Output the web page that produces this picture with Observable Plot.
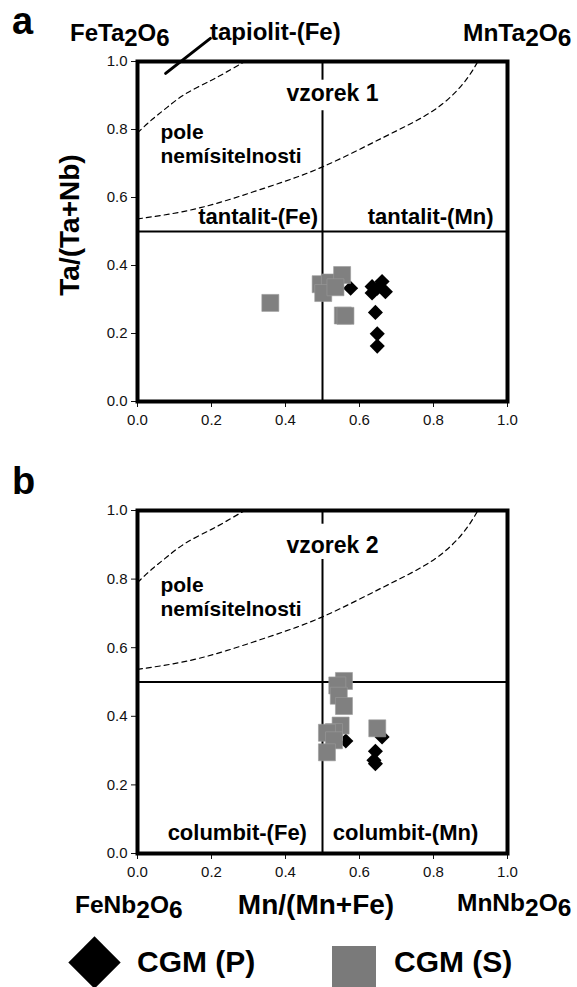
<!DOCTYPE html>
<html><head><meta charset="utf-8">
<script src="https://cdn.jsdelivr.net/npm/d3@7"></script>
<script src="https://cdn.jsdelivr.net/npm/@observablehq/plot@0.6"></script>
<style>
body{margin:0;background:#fff;}
#wrap{position:relative;width:577px;height:987px;overflow:hidden;font-family:"Liberation Sans",Arial,sans-serif;color:#000;}
.lab{position:absolute;font-weight:bold;white-space:nowrap;line-height:1;}
.sub{position:relative;top:5px;}
.panel{position:absolute;left:0;}
</style></head>
<body><div id="wrap"></div>
<script>
// ---------- data ----------
const ticks = [0, 0.2, 0.4, 0.6, 0.8, 1.0];
// panel a (vzorek 1): CGM (P) diamonds
const aPx = [0.576, 0.634, 0.661, 0.670, 0.634, 0.648, 0.643, 0.648, 0.648];
const aPy = [0.333, 0.338, 0.353, 0.323, 0.319, 0.333, 0.262, 0.199, 0.163];
// panel a: CGM (S) squares
const aSx = [0.359, 0.495, 0.520, 0.553, 0.502, 0.535, 0.555, 0.562];
const aSy = [0.290, 0.345, 0.350, 0.372, 0.319, 0.336, 0.253, 0.252];
// panel b (vzorek 2): CGM (P) diamonds
const bPx = [0.563, 0.661, 0.643, 0.639, 0.643];
const bPy = [0.328, 0.340, 0.298, 0.272, 0.262];
// panel b: CGM (S) squares
const bSx = [0.558, 0.540, 0.544, 0.558, 0.549, 0.531, 0.512, 0.531, 0.512, 0.648];
const bSy = [0.503, 0.490, 0.460, 0.430, 0.373, 0.354, 0.352, 0.330, 0.295, 0.365];
// miscibility-gap boundaries (dashed)
const gapUpperX = [0, 0.04, 0.08, 0.13, 0.20, 0.25, 0.29];
const gapUpperY = [0.79, 0.83, 0.865, 0.905, 0.945, 0.975, 1.0];
const gapLowerX = [0, 0.17, 0.35, 0.50, 0.665, 0.80, 0.88, 0.92];
const gapLowerY = [0.537, 0.57, 0.63, 0.69, 0.777, 0.856, 0.935, 1.0];
// tapiolit pointer line (panel a)
const tapX = [0.076, 0.197];
const tapY = [0.965, 1.068];
// texts
const sampleNames = ["vzorek 1", "vzorek 2"];
const gapText = ["pole", "nemísitelnosti"];
const fieldsA = ["tantalit-(Fe)", "tantalit-(Mn)"];
const fieldsB = ["columbit-(Fe)", "columbit-(Mn)"];
const seriesNames = ["CGM (P)", "CGM (S)"];

const zip = (xs, ys) => xs.map((x, i) => ({x, y: ys[i]}));
const FONT = '"Liberation Sans", Arial, sans-serif';

function panel(opts) {
  const {mTop, mBottom, height, P, S, name, nameY, fields, fieldX, fieldY, poleY, midBreak} = opts;
  return Plot.plot({
    width: 577, height,
    marginLeft: 137, marginRight: 70, marginTop: mTop, marginBottom: mBottom,
    style: {fontFamily: FONT, fontSize: "15px", color: "#111", background: "transparent", overflow: "visible"},
    x: {domain: [0, 1], ticks, tickFormat: d3.format(".1f"), tickSize: 6, tickPadding: 7, label: null},
    y: {domain: [0, 1], ticks, tickFormat: d3.format(".1f"), tickSize: 6, tickPadding: 4, label: null},
    marks: [
      Plot.line(zip(gapUpperX, gapUpperY), {x: "x", y: "y", curve: "natural", stroke: "#000", strokeWidth: 1.2, strokeDasharray: "5,4"}),
      Plot.line(zip(gapLowerX, gapLowerY), {x: "x", y: "y", curve: "natural", stroke: "#000", strokeWidth: 1.2, strokeDasharray: "5,4"}),
      Plot.ruleY([0.5], {stroke: "#000", strokeWidth: 2}),
      Plot.ruleX([0.5], {y1: 0, y2: midBreak[0], stroke: "#000", strokeWidth: 2}),
      Plot.ruleX([0.5], {y1: midBreak[1], y2: 1, stroke: "#000", strokeWidth: 2}),
      Plot.dot(P, {x: "x", y: "y", symbol: "diamond2", r: 6.8, fill: "#000", stroke: "none"}),
      Plot.dot(S, {x: "x", y: "y", symbol: "square", r: 9.6, fill: "#808080", stroke: "#9a9a9a", strokeWidth: 0.6}),
      Plot.text([name], {x: 0.527, y: nameY, text: d => d, fontSize: 23, fontWeight: "bold", fill: "#000"}),
      Plot.text(gapText, {x: 0.062, y: (d, i) => poleY[i], text: d => d, textAnchor: "start", fontSize: 21, fontWeight: "bold", fill: "#000"}),
      Plot.text([fields[0]], {x: fieldX[0], y: fieldY, text: d => d, textAnchor: "end", fontSize: 22, fontWeight: "bold", fill: "#000"}),
      Plot.text([fields[1]], {x: fieldX[1], y: fieldY, text: d => d, textAnchor: "start", fontSize: 22, fontWeight: "bold", fill: "#000"}),
      ...(opts.tap ? [Plot.line(zip(tapX, tapY), {x: "x", y: "y", stroke: "#000", strokeWidth: 3, clip: false})] : []),
      Plot.frame({stroke: "#000", strokeWidth: 4})
    ]
  });
}

const wrap = document.getElementById("wrap");
function place(el, top) { el.classList.add("panel"); el.style.top = top + "px"; wrap.appendChild(el); }

const pa = panel({mTop: 61, mBottom: 29, height: 430,
  P: zip(aPx, aPy), S: zip(aSx, aSy), name: sampleNames[0], nameY: 0.905,
  fields: fieldsA, fieldX: [0.488, 0.622], fieldY: 0.543, poleY: [0.792, 0.72], midBreak: [0.855, 0.945], tap: true});
place(pa, 0);

const pb = panel({mTop: 60, mBottom: 27, height: 430,
  P: zip(bPx, bPy), S: zip(bSx, bSy), name: sampleNames[1], nameY: 0.898,
  fields: fieldsB, fieldX: [0.458, 0.528], fieldY: 0.061, poleY: [0.783, 0.713], midBreak: [0.857, 0.96], tap: false});
place(pb, 450);

function lab(html, left, top, size, extra) {
  const d = document.createElement("div");
  d.className = "lab";
  d.innerHTML = html;
  d.style.left = left + "px"; d.style.top = top + "px"; d.style.fontSize = size + "px";
  if (extra) Object.assign(d.style, extra);
  wrap.appendChild(d);
  return d;
}
lab("a", 12, 2, 38);
lab("b", 12, 462, 38);
lab('FeTa<span class="sub">2</span>O<span class="sub">6</span>', 70, 21, 24);
lab('MnTa<span class="sub">2</span>O<span class="sub">6</span>', 463, 21, 24.5);
lab("tapiolit-(Fe)", 210, 20, 24);
lab("Ta/(Ta+Nb)", 70, 225, 28, {transform: "translate(-50%,-50%) rotate(-90deg)"});
lab('FeNb<span class="sub">2</span>O<span class="sub">6</span>', 75, 893, 24.5);
lab('MnNb<span class="sub">2</span>O<span class="sub">6</span>', 457, 891, 24.5);
lab("Mn/(Mn+Fe)", 316, 905, 28, {transform: "translate(-50%,-50%)"});

// legend
const dia = document.createElement("div");
Object.assign(dia.style, {position: "absolute", left: "76px", top: "944px", width: "37px", height: "37px", background: "#000", transform: "rotate(45deg)"});
wrap.appendChild(dia);
const sq = document.createElement("div");
Object.assign(sq.style, {position: "absolute", left: "332px", top: "946px", width: "44px", height: "44px", background: "#7a7a7a"});
wrap.appendChild(sq);
lab(seriesNames[0], 137, 947, 30);
lab(seriesNames[1], 394, 947, 30);
</script></body></html>
